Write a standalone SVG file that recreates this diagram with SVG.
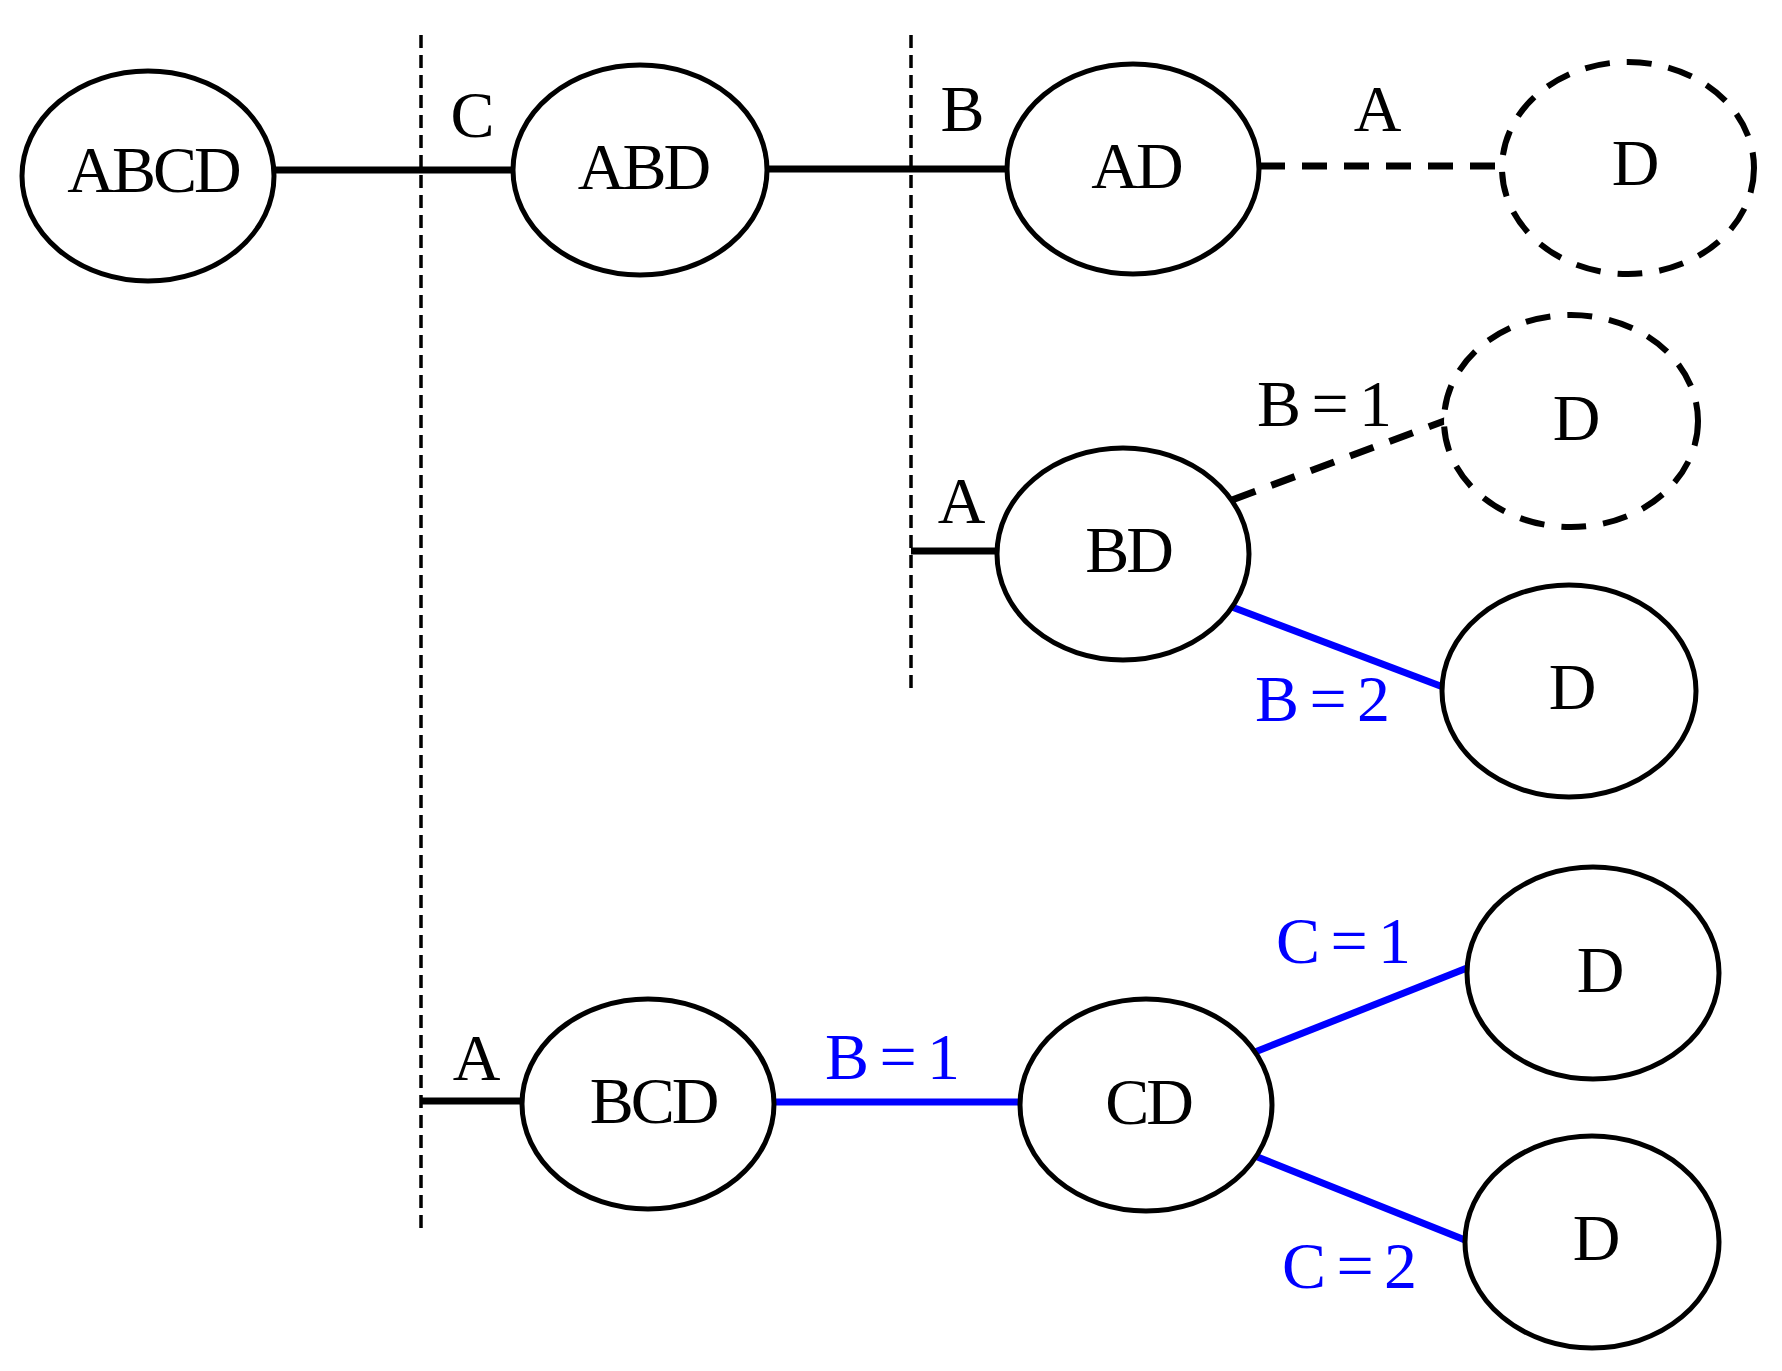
<svg xmlns="http://www.w3.org/2000/svg" width="1782" height="1371" viewBox="0 0 1782 1371">
<style>
.n{fill:#fff;stroke:#000;stroke-width:5}
.nd{fill:#fff;stroke:#000;stroke-width:6;stroke-dasharray:25 17}
.t{font-family:"Liberation Serif","Times New Roman",serif;font-size:66px;letter-spacing:-3px;fill:#000;text-anchor:middle}
.b{fill:#0000ff}
.e{stroke:#000;stroke-width:7;fill:none}
.ed{stroke:#000;stroke-width:7;fill:none;stroke-dasharray:25 17}
.eb{stroke:#0000ff;stroke-width:7;fill:none}
.sep{stroke:#000;stroke-width:3.5;stroke-dasharray:13 7;fill:none}
</style>
<rect width="1782" height="1371" fill="#fff"/>
<g id="separators">
<line class="sep" x1="421" y1="35" x2="421" y2="1234"/>
<line class="sep" x1="911" y1="35" x2="911" y2="689"/>
</g>
<g id="connectors">
<line class="e" x1="273" y1="170" x2="513" y2="170"/>
<line class="e" x1="766" y1="169" x2="1007" y2="169"/>
<line class="ed" x1="1260" y1="166" x2="1502" y2="166"/>
<line class="e" x1="911" y1="551" x2="998" y2="551"/>
<line class="ed" x1="1232" y1="500" x2="1447" y2="420"/>
<line class="eb" x1="1232" y1="607" x2="1443" y2="687"/>
<line class="e" x1="420" y1="1101" x2="523" y2="1101"/>
<line class="eb" x1="774" y1="1102" x2="1020" y2="1102"/>
<line class="eb" x1="1255" y1="1052" x2="1467" y2="968"/>
<line class="eb" x1="1255" y1="1156" x2="1465" y2="1240"/>
<text class="t" x="471" y="137">C</text>
<text class="t" x="961" y="131">B</text>
<text class="t" x="1376" y="131">A</text>
<text class="t" x="960" y="523">A</text>
<text class="t" x="1323" y="426">B = 1</text>
<text class="t b" x="1321" y="721">B = 2</text>
<text class="t" x="475" y="1080">A</text>
<text class="t b" x="891" y="1079">B = 1</text>
<text class="t b" x="1342" y="963">C = 1</text>
<text class="t b" x="1348" y="1288">C = 2</text>
</g>
<g id="n-abcd"><ellipse class="n" cx="148" cy="176" rx="126" ry="105"/><text class="t" x="153" y="192">ABCD</text></g>
<g id="n-abd"><ellipse class="n" cx="640" cy="170" rx="127" ry="105"/><text class="t" x="643" y="189">ABD</text></g>
<g id="n-ad"><ellipse class="n" cx="1133" cy="169" rx="126" ry="105"/><text class="t" x="1136" y="188">AD</text></g>
<g id="n-d1"><ellipse class="nd" cx="1628" cy="168" rx="126" ry="106"/><text class="t" x="1634" y="185">D</text></g>
<g id="n-bd"><ellipse class="n" cx="1123" cy="554" rx="126" ry="106"/><text class="t" x="1128" y="572">BD</text></g>
<g id="n-d2"><ellipse class="nd" cx="1571" cy="421" rx="127" ry="106"/><text class="t" x="1575" y="440">D</text></g>
<g id="n-d3"><ellipse class="n" cx="1569" cy="691" rx="127" ry="106"/><text class="t" x="1571" y="709">D</text></g>
<g id="n-bcd"><ellipse class="n" cx="648" cy="1104" rx="126" ry="105"/><text class="t" x="653" y="1123">BCD</text></g>
<g id="n-cd"><ellipse class="n" cx="1146" cy="1105" rx="126" ry="106"/><text class="t" x="1148" y="1124">CD</text></g>
<g id="n-d4"><ellipse class="n" cx="1593" cy="973" rx="126" ry="106"/><text class="t" x="1599" y="992">D</text></g>
<g id="n-d5"><ellipse class="n" cx="1592" cy="1242" rx="127" ry="106"/><text class="t" x="1595" y="1260">D</text></g>
</svg>
